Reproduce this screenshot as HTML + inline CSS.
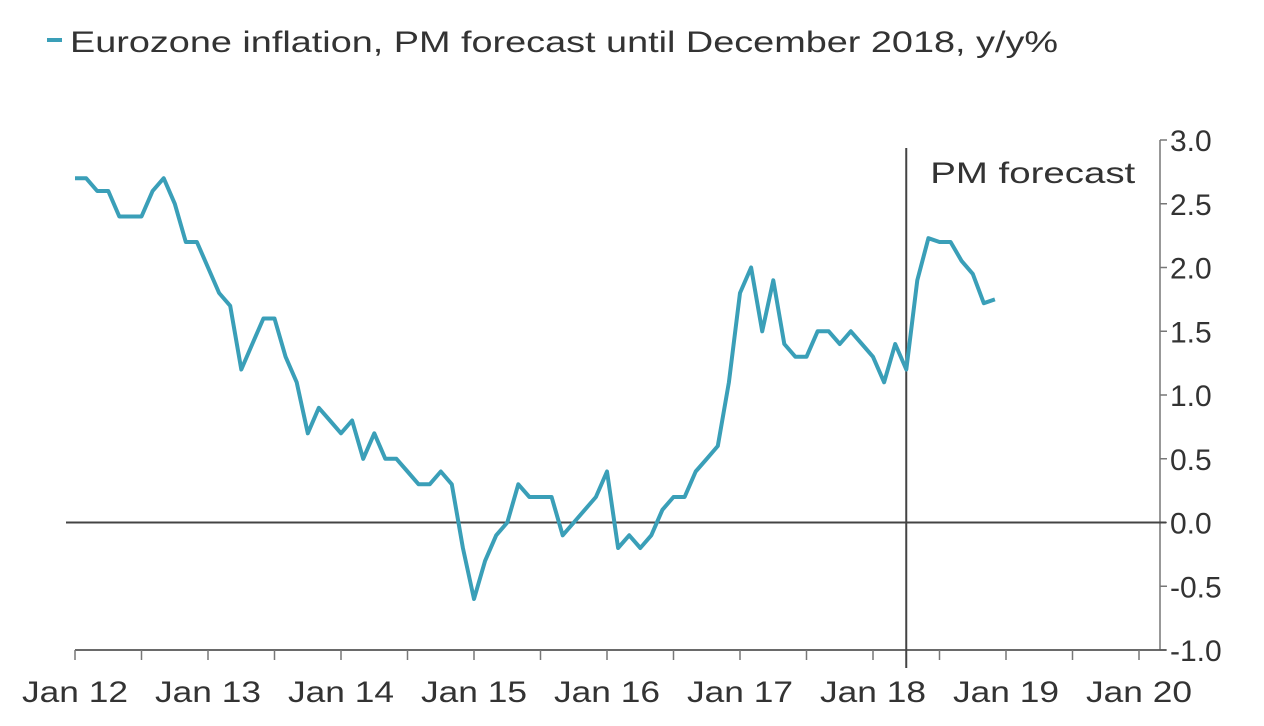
<!DOCTYPE html>
<html><head><meta charset="utf-8"><style>
body{margin:0;background:#fff;}
svg{display:block;font-family:"Liberation Sans",sans-serif;}
</style></head><body>
<svg id="chart" width="1264" height="726" viewBox="0 0 1264 726">
<g>
<line x1="47" y1="40" x2="62" y2="40" stroke="#3a9fb8" stroke-width="4"/>
<text x="70" y="52" font-size="30" fill="#333" textLength="988" lengthAdjust="spacingAndGlyphs">Eurozone inflation, PM forecast until December 2018, y/y%</text>
</g>
<g id="axes"></g>
<g id="series"></g>
</svg>
<script>
const yTicks = [3.0, 2.5, 2.0, 1.5, 1.0, 0.5, 0.0, -0.5, -1.0];
const xLabels = ["Jan 12","Jan 13","Jan 14","Jan 15","Jan 16","Jan 17","Jan 18","Jan 19","Jan 20"];
const inflation2012 = [2.7,2.7,2.6,2.6,2.4,2.4,2.4,2.6,2.7,2.5,2.2,2.2];
const inflation2013 = [2.0,1.8,1.7,1.2,1.4,1.6,1.6,1.3,1.1,0.7,0.9,0.8];
const inflation2014 = [0.7,0.8,0.5,0.7,0.5,0.5,0.4,0.3,0.3,0.4,0.3,-0.2];
const inflation2015 = [-0.6,-0.3,-0.1,0.0,0.3,0.2,0.2,0.2,-0.1,0.0,0.1,0.2];
const inflation2016 = [0.4,-0.2,-0.1,-0.2,-0.1,0.1,0.2,0.2,0.4,0.5,0.6,1.1];
const inflation2017 = [1.8,2.0,1.5,1.9,1.4,1.3,1.3,1.5,1.5,1.4,1.5,1.4];
const inflation2018 = [1.3,1.1,1.4,1.2,1.9,2.23,2.2,2.2,2.05,1.95,1.72,1.75];
const forecastStartMonth = 75;

const values = [].concat(inflation2012,inflation2013,inflation2014,inflation2015,inflation2016,inflation2017,inflation2018);
const NS = "http://www.w3.org/2000/svg";
const x0 = 75, monthW = 133/12, axisX = 1160;
const yTop = 140, yBot = 650, yMax = 3, yMin = -1;
function xScale(m){ return x0 + m*monthW; }
function yScale(v){ return yTop + (yMax - v)/(yMax - yMin)*(yBot - yTop); }
function mk(tag, attrs, parent){ const e=document.createElementNS(NS,tag); for(const k in attrs) e.setAttribute(k,attrs[k]); parent.appendChild(e); return e; }
const axes = document.getElementById('axes');
const series = document.getElementById('series');

const yAxis = mk('line',{x1:axisX,y1:yTop,x2:axisX,y2:yBot,stroke:'#777','stroke-width':1.5},axes);


yTicks.forEach(v=>{
  const y=yScale(v);
  const t=mk('line',{x1:axisX,y1:y,x2:axisX+7,y2:y,stroke:'#777','stroke-width':1.5},axes);
  
  
  const l=mk('text',{x:axisX+10,y:y+11,'font-size':30,fill:'#333'},axes);
  l.textContent=v.toFixed(1);
  
  
});
const xAxis = mk('line',{x1:x0,y1:yBot,x2:axisX+6,y2:yBot,stroke:'#555','stroke-width':1.8},axes);


for(let m=0;m<=96;m+=6){
  const x=xScale(m);
  const t=mk('line',{x1:x,y1:yBot,x2:x,y2:yBot+10,stroke:'#777','stroke-width':1.5},axes);
  
  
}
xLabels.forEach((s,i)=>{
  const l=mk('text',{x:xScale(i*12),y:702,'font-size':30,fill:'#333','text-anchor':'middle',textLength:106,lengthAdjust:'spacingAndGlyphs'},axes);
  l.textContent=s;
  
  
});
const zero = mk('line',{x1:66,y1:yScale(0),x2:axisX+6,y2:yScale(0),stroke:'#444','stroke-width':2},axes);


const fx = xScale(forecastStartMonth);
const fl = mk('line',{x1:fx,y1:148,x2:fx,y2:668,stroke:'#444','stroke-width':2},axes);


const ft = mk('text',{x:fx+24,y:183,'font-size':30,fill:'#333',textLength:205,lengthAdjust:'spacingAndGlyphs'},axes);
ft.textContent='PM forecast';



const pts = values.map((v,i)=>xScale(i).toFixed(1)+','+yScale(v).toFixed(1)).join(' ');
const line = mk('polyline',{points:pts,fill:'none',stroke:'#3a9fb8','stroke-width':4,'stroke-linejoin':'round'},series);


</script>
</body></html>
